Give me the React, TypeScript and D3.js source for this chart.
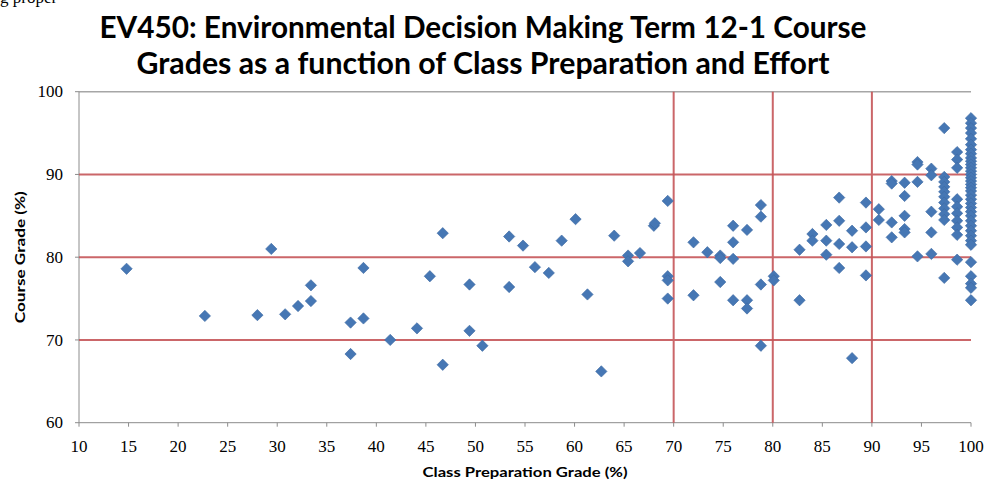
import React from 'react';
import * as d3 from 'd3';

// class preparation grade (%) vs course grade (%)
const scattered: [number, number][] = [
  [14.8, 78.6], [22.7, 72.9], [28.0, 73.0], [29.4, 81.0], [30.8, 73.1], [32.1, 74.1],
  [33.4, 74.7], [33.4, 76.6], [37.4, 72.1], [37.4, 68.3], [38.7, 78.7], [38.7, 72.6],
  [41.4, 70.0], [44.1, 71.4], [45.4, 77.7], [46.7, 82.9], [46.7, 67.0], [49.4, 76.7],
  [49.4, 71.1], [50.7, 69.3], [53.4, 82.5], [53.4, 76.4], [54.8, 81.4], [56.0, 78.8],
  [57.4, 78.1], [58.7, 82.0], [60.1, 84.6], [61.3, 75.5], [62.7, 66.2], [64.0, 82.6],
  [65.4, 80.2], [65.4, 79.5], [66.6, 80.5], [68.0, 83.8], [68.1, 84.1], [69.4, 86.8],
  [69.4, 77.7], [69.4, 77.2], [69.4, 75.0], [72.0, 81.8], [72.0, 75.4], [73.4, 80.6],
  [74.7, 80.2], [74.7, 79.9], [74.7, 77.0], [76.0, 83.8], [76.0, 81.8], [76.0, 79.8],
  [76.0, 74.8], [77.4, 83.3], [77.4, 74.8], [77.4, 73.8], [78.8, 86.3], [78.8, 84.9],
  [78.8, 76.7], [78.8, 69.3], [80.1, 77.7], [80.1, 77.2], [82.7, 80.9], [82.7, 74.8],
  [84.0, 82.8], [84.0, 82.0], [85.4, 83.9], [85.4, 82.0], [85.4, 80.3], [86.7, 87.2],
  [86.7, 84.4], [86.7, 81.6], [86.7, 78.7], [88.0, 83.2], [88.0, 81.2], [88.0, 67.8],
  [89.4, 86.6], [89.4, 83.6], [89.4, 81.3], [89.4, 77.8], [90.7, 85.8], [90.7, 84.5],
  [92.0, 89.2], [92.0, 88.9], [92.0, 84.2], [92.0, 82.4], [93.3, 89.0], [93.3, 87.4],
  [93.3, 85.0], [93.3, 83.4], [93.3, 83.0], [94.6, 91.5], [94.6, 91.2], [94.6, 89.1],
  [94.6, 80.1], [96.0, 90.7], [96.0, 89.9], [96.0, 85.5], [96.0, 83.0], [96.0, 80.4],
  [97.3, 95.6],
];

// the three crowded columns on the right
const col97 = [89.7, 89.1, 88.5, 87.9, 87.3, 86.6, 85.9, 85.2, 84.5, 77.5];
const col99 = [92.7, 91.8, 90.8, 87.0, 86.1, 85.3, 84.4, 83.6, 82.7, 79.7];
const col100 = [
  96.8, 96.2, 95.6, 95.0, 94.3, 93.6, 93.0, 92.5, 92.0, 91.6, 91.2, 90.8, 90.4, 90.0,
  89.6, 89.2, 88.8, 88.4, 88.0, 87.5, 87.0, 86.5, 86.0, 85.5, 85.0, 84.4, 83.8, 83.2,
  82.6, 82.0, 81.5, 79.4, 77.7, 76.8, 76.3, 74.8,
];

const xTicks = d3.range(10, 101, 5);
const yTicks = [60, 70, 80, 90, 100];
const cutLines = [70, 80, 90];

const titleLines = [
  'EV450: Environmental Decision Making Term 12-1 Course',
  'Grades as a function of Class Preparation and Effort',
];

const W = 987, H = 482;
const plot = { left: 79, right: 971, top: 91.7, bottom: 422.7 };

export default function App() {
  const x = d3.scaleLinear().domain([10, 100]).range([plot.left, plot.right]);
  const y = d3.scaleLinear().domain([60, 100]).range([plot.bottom, plot.top]);

  const data: [number, number][] = [
    ...scattered,
    ...col97.map((v) => [97.3, v] as [number, number]),
    ...col99.map((v) => [98.6, v] as [number, number]),
    ...col100.map((v) => [100, v] as [number, number]),
  ];

  const marker = d3.symbol().type(d3.symbolSquare).size(64)();
  const axisColor = '#8c8c8c';
  const red = '#c65659';
  const serif = '"Liberation Serif", "Times New Roman", serif';
  const sans = 'Lato, "Open Sans", sans-serif';

  return (
    <svg width={W} height={H} style={{ position: 'absolute', left: 0, top: 0, background: '#fff' }}>
      <rect width={W} height={H} fill="#fff" />
      {/* tail of a line of the page above the chart */}
      <text x={0} y={3} fontFamily={serif} fontSize={17} fill="#000">g proper</text>

      {titleLines.map((t, i) => (
        <text key={t} x={483} y={38 + i * 36} textAnchor="middle" fontFamily={sans}
          fontWeight={700} fontSize={30} fill="#000"
          textLength={i === 0 ? 767 : 693} lengthAdjust="spacingAndGlyphs">{t}</text>
      ))}

      {/* gridline at the top */}
      <line x1={plot.left} x2={plot.right} y1={y(100)} y2={y(100)} stroke="#a6a6a6" strokeWidth={1.5} />

      {/* axes */}
      <line x1={plot.left} x2={plot.left} y1={plot.top} y2={plot.bottom} stroke={axisColor} />
      <line x1={plot.left} x2={plot.right} y1={plot.bottom} y2={plot.bottom} stroke={axisColor} />
      {yTicks.map((t) => (
        <g key={'y' + t}>
          <line x1={plot.left - 4} x2={plot.left} y1={y(t)} y2={y(t)} stroke={axisColor} />
          <text x={63} y={y(t)} dy="0.33em" textAnchor="end" fontFamily={serif} fontSize={17}>{t}</text>
        </g>
      ))}
      {xTicks.map((t) => (
        <g key={'x' + t}>
          <line x1={x(t)} x2={x(t)} y1={plot.bottom} y2={plot.bottom + 4} stroke={axisColor} />
          <text x={x(t)} y={452} textAnchor="middle" fontFamily={serif} fontSize={17}>{t}</text>
        </g>
      ))}

      {/* grade cut-off lines */}
      {cutLines.map((c) => (
        <g key={'c' + c} stroke={red} strokeWidth={2} opacity={0.9}>
          <line x1={plot.left} x2={plot.right} y1={y(c)} y2={y(c)} />
          <line x1={x(c)} x2={x(c)} y1={plot.top} y2={plot.bottom} />
        </g>
      ))}

      {data.map((d, i) => (
        <path key={i} d={marker} transform={`translate(${x(d[0])},${y(d[1])}) rotate(45)`}
          fill="#4677b4" stroke="#3d6aa3" strokeWidth={0.6} />
      ))}

      <text transform={`translate(20,${(plot.top + plot.bottom) / 2}) rotate(-90)`} textAnchor="middle"
        dy="0.35em" fontFamily={sans} fontWeight={700} fontSize={14} textLength={132}
        lengthAdjust="spacingAndGlyphs">Course Grade (%)</text>
      <text x={525} y={477} textAnchor="middle" fontFamily={sans} fontWeight={700} fontSize={14}
        textLength={205} lengthAdjust="spacingAndGlyphs">Class Preparation Grade (%)</text>
    </svg>
  );
}
